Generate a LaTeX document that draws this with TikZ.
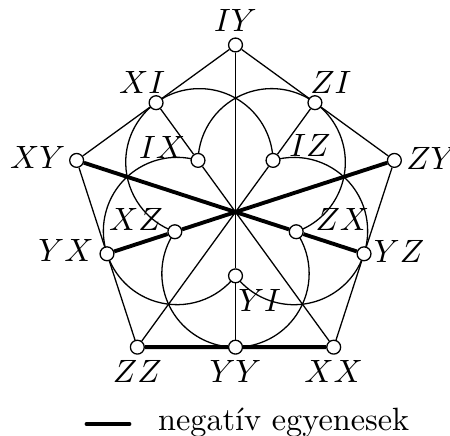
\documentclass[tikz,border=0pt]{standalone}
\usetikzlibrary{backgrounds}

\begin{document}
\begin{tikzpicture}[line cap=round,line join=round,
    pnt/.style={circle,draw,fill=white,inner sep=0pt,minimum size=4.3pt,line width=0.4pt},
    neg/.style={line width=1.2pt},
    lbl/.style={anchor=center,inner sep=1.5pt}]
  \useasboundingbox (-2.566,-2.440) rectangle (2.337,2.310);
  \coordinate (O) at (0,0);
  % outer vertices
  \node[pnt,label={[lbl,label distance=5.1pt]90:$IY$}] (IY) at (90:1.82) {};
  \node[pnt,label={[lbl,label distance=9.75pt]176.3:$XY$}] (XY) at (162:1.82) {};
  \node[pnt,label={[lbl,label distance=5.1pt]270:$ZZ$}] (ZZ) at (234:1.82) {};
  \node[pnt,label={[lbl,label distance=5.1pt]270:$XX$}] (XX) at (306:1.82) {};
  \node[pnt,label={[lbl,label distance=9.15pt]3:$ZY$}] (ZY) at (18:1.82) {};
  % midpoints of the sides
  \node[pnt,label={[lbl,label distance=5.35pt]124.3:$XI$}] (XI) at (126:1.4724) {};
  \node[pnt,label={[lbl,label distance=10.4pt]175.8:$YX$}] (YX) at (198:1.4724) {};
  \node[pnt,label={[lbl,label distance=5.1pt]270:$YY$}] (YY) at (270:1.4724) {};
  \node[pnt,label={[lbl,label distance=8.5pt]3.3:$YZ$}] (YZ) at (342:1.4724) {};
  \node[pnt,label={[lbl,label distance=5.7pt]52:$ZI$}] (ZI) at (54:1.4724) {};
  % inner points
  \node[pnt,label={[lbl,label distance=9.5pt]160.1:$IX$}] (IX) at (126:0.6952) {};
  \node[pnt,label={[lbl,label distance=10.25pt]163.5:$XZ$}] (XZ) at (198:0.6952) {};
  \node[pnt,label={[lbl,label distance=8.4pt]-46.2:$YI$}] (YI) at (270:0.6952) {};
  \node[pnt,label={[lbl,label distance=12.5pt]15.8:$ZX$}] (ZX) at (342:0.6952) {};
  \node[pnt,label={[lbl,label distance=10pt]22.1:$IZ$}] (IZ) at (54:0.6952) {};
  \begin{pgfonlayer}{background}
    \draw[line width=0.4pt] (IY) -- (XI) -- (XY) -- (YX) -- (ZZ);
    \draw[line width=0.4pt] (IY) -- (ZI) -- (ZY) -- (YZ) -- (XX);
    \draw[neg] (ZZ) -- (YY) -- (XX);
    \draw[line width=0.4pt] (IY) -- (O) -- (YI) -- (YY);
    \draw[line width=0.4pt] (XI) -- (IX) -- (O) -- (XX);
    \draw[line width=0.4pt] (ZI) -- (IZ) -- (O) -- (ZZ);
    \draw[neg] (XY) -- (O) -- (ZX) -- (YZ);
    \draw[neg] (ZY) -- (O) -- (XZ) -- (YX);
    \draw[line width=0.4pt] (IZ.center) arc (1.46:250.54:0.8026);
    \draw[line width=0.4pt] (ZX.center) arc (-70.54:178.54:0.8026);
    \draw[line width=0.4pt] (IX.center) arc (73.46:322.54:0.8026);
    \draw[line width=0.4pt] (XZ.center) arc (145.46:394.54:0.8026);
    \draw[line width=0.4pt] (YI.center) arc (-142.54:106.54:0.8026);
  \end{pgfonlayer}
  % legend
  \coordinate (leg1) at (-1.623,-2.310);
  \coordinate (leg2) at (-1.155,-2.310);
  \draw[neg] (leg1) -- (leg2);
  \node[anchor=base west,inner sep=0pt] (legtxt) at (-0.850,-2.375) {negatív egyenesek};
\end{tikzpicture}
\end{document}
